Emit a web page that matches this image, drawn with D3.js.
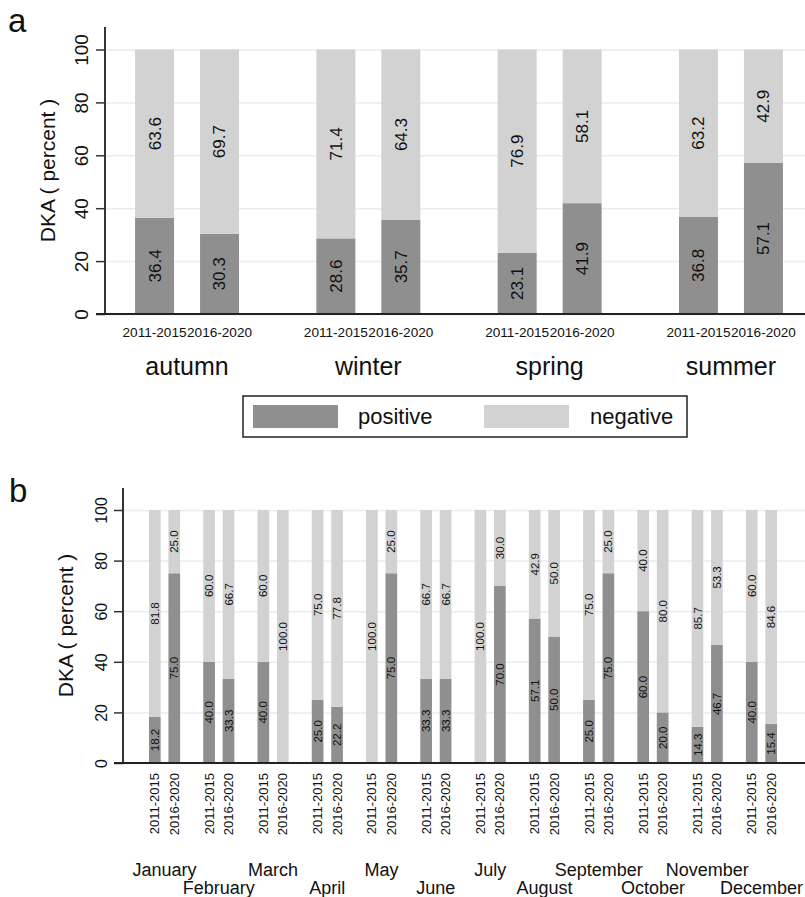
<!DOCTYPE html>
<html>
<head>
<meta charset="utf-8">
<script src="https://cdn.jsdelivr.net/npm/d3@7"></script>
<style>
  body { margin: 0; background: #fff; }
  text { font-family: "Liberation Sans", Arial, sans-serif; fill: #111; }
</style>
</head>
<body>
<div id="chart"></div>
<script>
// data
var periods = ["2011-2015", "2016-2020"];
var seasons = ["autumn", "winter", "spring", "summer"];
var seasonPos1 = [36.4, 28.6, 23.1, 36.8];
var seasonPos2 = [30.3, 35.7, 41.9, 57.1];
var seasonNeg1 = [63.6, 71.4, 76.9, 63.2];
var seasonNeg2 = [69.7, 64.3, 58.1, 42.9];

var months = ["January", "February", "March", "April", "May", "June",
    "July", "August", "September", "October", "November", "December"];
var monthPos1 = [18.2, 40.0, 40.0, 25.0, 0, 33.3, 0, 57.1, 25.0, 60.0, 14.3, 40.0];
var monthPos2 = [75.0, 33.3, 0, 22.2, 75.0, 33.3, 70.0, 50.0, 75.0, 20.0, 46.7, 15.4];
var monthNeg1 = [81.8, 60.0, 60.0, 75.0, 100.0, 66.7, 100.0, 42.9, 75.0, 40.0, 85.7, 60.0];
var monthNeg2 = [25.0, 66.7, 100.0, 77.8, 25.0, 66.7, 30.0, 50.0, 25.0, 80.0, 53.3, 84.6];

var yTicks = [0, 20, 40, 60, 80, 100];
var legendLabels = ["positive", "negative"];

var colPos = "#8f8f8f",
    colNeg = "#d2d2d2",
    gridCol = "#e6eef0";

var svg = d3.select("#chart").append("svg")
    .attr("width", 805)
    .attr("height", 897);

// build rows: group, period, pos, neg
function makeRows(groups, p1, p2, n1, n2) {
    var rows = [];
    groups.forEach(function (g, i) {
        rows.push({group: g, period: periods[0], pos: p1[i], neg: n1[i]});
        rows.push({group: g, period: periods[1], pos: p2[i], neg: n2[i]});
    });
    return rows;
}

function panel(cfg) {
    var g = svg.append("g");
    var y = d3.scaleLinear().domain([0, 100]).range([cfg.y0, cfg.y100]);
    var x0 = d3.scaleBand().domain(cfg.groups).range(cfg.xRange);
    var x1 = d3.scaleBand().domain(periods).range([0, x0.bandwidth()])
        .paddingInner(0.4).paddingOuter(0.595);

    // gridlines
    g.append("g")
        .attr("transform", "translate(" + cfg.axisX + ",0)")
        .call(d3.axisLeft(y).tickValues(yTicks).tickSize(-(805 - cfg.axisX)).tickFormat(""))
        .call(s => s.select(".domain").remove())
        .selectAll("line").attr("stroke", gridCol).attr("stroke-width", 1.5);

    var bars = g.selectAll(".bar").data(cfg.rows).enter().append("g")
        .attr("transform", d => "translate(" + (x0(d.group) + x1(d.period)) + ",0)");

    bars.append("rect")
        .attr("y", d => y(d.pos))
        .attr("width", x1.bandwidth())
        .attr("height", d => y(0) - y(d.pos))
        .attr("fill", colPos);
    bars.append("rect")
        .attr("y", d => y(d.pos + d.neg))
        .attr("width", x1.bandwidth())
        .attr("height", d => y(d.pos) - y(d.pos + d.neg))
        .attr("fill", colNeg);

    // value labels, rotated in the middle of each segment
    var cx = x1.bandwidth() / 2;
    bars.filter(d => d.pos > 0).append("text")
        .attr("transform", d => "translate(" + cx + "," + y(d.pos / 2) + ") rotate(-90)")
        .attr("text-anchor", "middle").attr("dy", "0.35em")
        .style("font-size", cfg.valFont + "px")
        .text(d => d3.format(".1f")(d.pos));
    bars.filter(d => d.neg > 0).append("text")
        .attr("transform", d => "translate(" + cx + "," + y(d.pos + d.neg / 2) + ") rotate(-90)")
        .attr("text-anchor", "middle").attr("dy", "0.35em")
        .style("font-size", cfg.valFont + "px")
        .text(d => d3.format(".1f")(d.neg));

    // y axis
    var yAxis = g.append("g")
        .attr("transform", "translate(" + cfg.axisX + ",0)")
        .call(d3.axisLeft(y).tickValues(yTicks).tickSize(9).tickPadding(0));
    yAxis.select(".domain").remove();
    yAxis.selectAll("line").attr("stroke", "#333").attr("stroke-width", 1.5);
    yAxis.selectAll("text")
        .attr("x", null).attr("dy", null)
        .attr("text-anchor", "middle")
        .attr("transform", "translate(" + (cfg.tickLabelX - cfg.axisX) + ",0) rotate(-90)")
        .style("font-size", cfg.tickFont + "px")
        .attr("fill", "#111");
    g.append("line")
        .attr("x1", cfg.axisX).attr("x2", cfg.axisX)
        .attr("y1", cfg.axisTop).attr("y2", y(0))
        .attr("stroke", "#333").attr("stroke-width", 2);
    g.append("line")
        .attr("x1", cfg.axisX - 9).attr("x2", 805)
        .attr("y1", y(0)).attr("y2", y(0))
        .attr("stroke", "#222").attr("stroke-width", 2);

    g.append("text")
        .attr("transform", "translate(" + cfg.titleX + "," + ((cfg.axisTop + y(0)) / 2) + ") rotate(-90)")
        .attr("text-anchor", "middle")
        .style("font-size", "21px")
        .text("DKA ( percent )");

    g.append("text")
        .attr("x", cfg.letterX).attr("y", cfg.letterY)
        .style("font-size", "33px")
        .text(cfg.letter);

    return {x0: x0, x1: x1, y: y, g: g};
}

///////////////////////// panel a /////////////////////////
var rowsA = makeRows(seasons, seasonPos1, seasonPos2, seasonNeg1, seasonNeg2);
var pa = panel({
    rows: rowsA, groups: seasons, xRange: [96.4, 821.6],
    y0: 314, y100: 49.5, axisX: 105, axisTop: 27,
    tickLabelX: 88, tickFont: 19, valFont: 17,
    titleX: 55, letter: "a", letterX: 8, letterY: 32
});

pa.g.selectAll(".plab").data(rowsA).enter().append("text")
    .attr("x", d => pa.x0(d.group) + pa.x1(d.period) + pa.x1.bandwidth() / 2)
    .attr("y", 337)
    .attr("text-anchor", "middle")
    .style("font-size", "13.6px")
    .text(d => d.period);

pa.g.selectAll(".glab").data(seasons).enter().append("text")
    .attr("x", d => pa.x0(d) + pa.x0.bandwidth() / 2)
    .attr("y", 375)
    .attr("text-anchor", "middle")
    .style("font-size", "25px")
    .text(d => d);

// legend
var leg = svg.append("g");
leg.append("rect")
    .attr("x", 243).attr("y", 396).attr("width", 444).attr("height", 41)
    .attr("fill", "none").attr("stroke", "#222").attr("stroke-width", 1.5);
var legItem = leg.selectAll(".legItem").data(legendLabels).enter().append("g")
    .attr("transform", (d, i) => "translate(" + (253 + i * 231) + ",405)");
legItem.append("rect")
    .attr("width", 85).attr("height", 23)
    .attr("fill", (d, i) => i === 0 ? colPos : colNeg);
legItem.append("text")
    .attr("x", (d, i) => i === 0 ? 105 : 106)
    .attr("y", 19)
    .style("font-size", "22px")
    .text(d => d);

///////////////////////// panel b /////////////////////////
var rowsB = makeRows(months, monthPos1, monthPos2, monthNeg1, monthNeg2);
var pb = panel({
    rows: rowsB, groups: months, xRange: [137.4, 788.6],
    y0: 763, y100: 510, axisX: 123, axisTop: 488,
    tickLabelX: 107, tickFont: 16, valFont: 11.5,
    titleX: 73, letter: "b", letterX: 9, letterY: 502
});

pb.g.selectAll(".plab").data(rowsB).enter().append("text")
    .attr("transform", d => "translate(" + (pb.x0(d.group) + pb.x1(d.period) + pb.x1.bandwidth() / 2) + ",773) rotate(-90)")
    .attr("text-anchor", "end")
    .attr("dy", "0.35em")
    .style("font-size", "13px")
    .text(d => d.period);

pb.g.selectAll(".mlab").data(months).enter().append("text")
    .attr("x", d => pb.x0(d) + pb.x0.bandwidth() / 2)
    .attr("y", (d, i) => i % 2 === 0 ? 876 : 894)
    .attr("text-anchor", "middle")
    .style("font-size", "18px")
    .text(d => d);
</script>
</body>
</html>
